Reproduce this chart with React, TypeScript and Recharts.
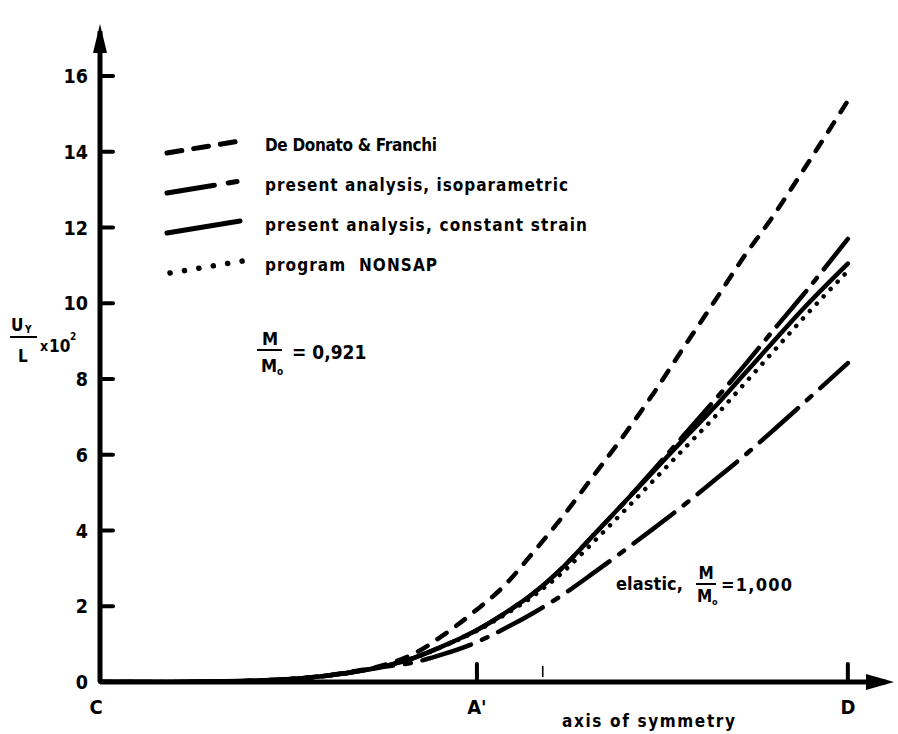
import React from 'react';
import { LineChart, Line, XAxis, YAxis, ReferenceDot, Legend, Customized } from 'recharts';

const FONT = "'DejaVu Sans Condensed', 'Liberation Sans Narrow', sans-serif";
const INK = '#000';

// x position along C–D (C = 0, D = 100)
const xPositions = [0, 10, 20, 27, 33, 38, 42, 46, 50, 54, 58, 62, 66, 70, 74, 78, 82, 86, 90, 94, 100];
// U_Y / L x 10^2
const deDonatoFranchi = [0, 0, 0.03, 0.1, 0.25, 0.45, 0.75, 1.25, 1.85, 2.53, 3.44, 4.4, 5.45, 6.5, 7.62, 8.82, 10.0, 11.2, 12.3, 13.5, 15.35];
const isoparametric = [0, 0, 0.03, 0.1, 0.24, 0.42, 0.64, 0.96, 1.33, 1.8, 2.35, 3.05, 3.88, 4.72, 5.6, 6.5, 7.4, 8.32, 9.28, 10.22, 11.7];
const constantStrain = [0, 0, 0.03, 0.1, 0.24, 0.42, 0.64, 0.96, 1.33, 1.8, 2.35, 3.05, 3.88, 4.72, 5.56, 6.4, 7.22, 8.1, 8.98, 9.85, 11.05];
const nonsap = [0, 0, 0.03, 0.1, 0.24, 0.42, 0.63, 0.95, 1.31, 1.76, 2.28, 2.92, 3.7, 4.5, 5.32, 6.14, 6.96, 7.84, 8.72, 9.6, 10.85];
const elastic = [0, 0, 0.03, 0.1, 0.23, 0.4, 0.52, 0.74, 1.02, 1.4, 1.83, 2.32, 2.88, 3.46, 4.05, 4.66, 5.3, 5.95, 6.64, 7.35, 8.42];

const yTicks = [0, 2, 4, 6, 8, 10, 12, 14, 16];
const xTickValues = [0, 50.4, 59.2, 100];
const xTickLabels = ['C', "A'", '', 'D'];
const seriesNames = [
  'De Donato & Franchi',
  'present analysis, isoparametric',
  'present analysis, constant strain',
  'program  NONSAP',
];

const X_MAX = 105.1;
const Y_MAX = 17.19;

const data = xPositions.map((x, i) => ({
  x,
  deDonato: deDonatoFranchi[i],
  iso: isoparametric[i],
  cst: constantStrain[i],
  nonsap: nonsap[i],
  elastic: elastic[i],
}));

const txt = { fill: INK, fontFamily: FONT, fontWeight: 700 } as const;

const YTick = (props: any) => {
  const { x, y, payload } = props;
  return (
    <g>
      <line x1={x} x2={x + 13} y1={y} y2={y} stroke={INK} strokeWidth={4} strokeLinecap="round" />
      <text x={x - 12} y={y + 7} textAnchor="end" fontSize={19.5} {...txt}>
        {payload.value}
      </text>
    </g>
  );
};

const XTick = (props: any) => {
  const { x, y, payload } = props;
  const idx = xTickValues.indexOf(payload.value);
  const label = idx >= 0 ? xTickLabels[idx] : '';
  const v = payload.value;
  return (
    <g>
      {(v === 50.4 || v === 100) && (
        <line x1={x} x2={x} y1={y - 18} y2={y} stroke={INK} strokeWidth={4} strokeLinecap="round" />
      )}
      {v === 59.2 && <line x1={x} x2={x} y1={y - 16} y2={y - 5} stroke={INK} strokeWidth={1.6} />}
      {label && (
        <text x={v === 0 ? x - 4 : x} y={y + 32} textAnchor="middle" fontSize={20} {...txt}>
          {label}
        </text>
      )}
    </g>
  );
};

const YArrow = (props: any) => {
  const { cx, cy } = props;
  return <polygon points={`${cx},${cy - 7} ${cx - 7},${cy + 22} ${cx + 7},${cy + 22}`} fill={INK} />;
};
const XArrow = (props: any) => {
  const { cx, cy } = props;
  return <polygon points={`${cx + 8},${cy} ${cx - 20},${cy - 8} ${cx - 20},${cy + 8}`} fill={INK} />;
};

const legendDash: Record<string, string | undefined> = {
  'De Donato & Franchi': '15 12',
  'present analysis, isoparametric': '48 14 9 30',
  'present analysis, constant strain': undefined,
  'program  NONSAP': '0.1 14.5',
};
const legendTextLen: Record<string, number> = {
  'De Donato & Franchi': 172,
  'present analysis, isoparametric': 303,
  'present analysis, constant strain': 322,
  'program  NONSAP': 172,
};

const renderLegend = (props: any) => {
  const items = [...(props.payload || [])]
    .filter((p: any) => seriesNames.includes(p.value))
    .sort((a: any, b: any) => seriesNames.indexOf(a.value) - seriesNames.indexOf(b.value));
  return (
    <svg width={470} height={170} style={{ display: 'block', overflow: 'visible' }}>
      {items.map((entry: any, i: number) => {
        const c = 25 + i * 40;
        const name = entry.value as string;
        const dotted = name === 'program  NONSAP';
        return (
          <g key={name}>
            <line
              x1={dotted ? 22 : 19}
              y1={c + 8}
              x2={dotted ? 95 : 92}
              y2={c - 4}
              stroke={INK}
              strokeWidth={dotted ? 5.5 : 5}
              strokeLinecap="round"
              strokeDasharray={legendDash[name]}
            />
            <text
              x={117}
              y={c + 6}
              fontSize={17}
              textLength={legendTextLen[name]}
              lengthAdjust="spacing"
              style={{ whiteSpace: 'pre' }}
              {...txt}
            >
              {name}
            </text>
          </g>
        );
      })}
    </svg>
  );
};

const Annotations = () => (
  <g>
    {/* y axis label */}
    <text x={11} y={331} fontSize={17} {...txt}>U</text>
    <text x={25} y={333} fontSize={10} {...txt}>Y</text>
    <line x1={10} x2={37} y1={337} y2={337} stroke={INK} strokeWidth={2} />
    <text x={18} y={362} fontSize={17} {...txt}>L</text>
    <text x={40} y={351} fontSize={14} {...txt}>x</text>
    <text x={49} y={352} fontSize={17} {...txt}>10</text>
    <text x={70} y={340} fontSize={10} {...txt}>2</text>

    {/* M/Mo = 0,921 */}
    <text x={270} y={345} fontSize={18} textAnchor="middle" {...txt}>M</text>
    <line x1={257} x2={282} y1={350} y2={350} stroke={INK} strokeWidth={2} />
    <text x={261} y={372} fontSize={18} {...txt}>M</text>
    <text x={277} y={375} fontSize={10} {...txt}>o</text>
    <text x={292} y={359} fontSize={19} style={{ whiteSpace: 'pre' }} {...txt}>
      = 0,921
    </text>

    {/* elastic label */}
    <text x={616} y={590} fontSize={18} textLength={67} lengthAdjust="spacing" {...txt}>elastic,</text>
    <text x={706} y={579} fontSize={17} textAnchor="middle" {...txt}>M</text>
    <line x1={696} x2={716} y1={584} y2={584} stroke={INK} strokeWidth={2} />
    <text x={697} y={602} fontSize={17} {...txt}>M</text>
    <text x={712} y={605} fontSize={9} {...txt}>o</text>
    <text x={721} y={591} fontSize={18} textLength={71} lengthAdjust="spacing" {...txt}>=1,000</text>

    {/* axis title */}
    <text x={562} y={727} fontSize={17} textLength={173} lengthAdjust="spacing" {...txt}>axis of symmetry</text>
  </g>
);

export default function App() {
  return (
    <div style={{ position: 'absolute', left: 0, top: 0, width: 898, height: 734, background: '#fff' }}>
      <LineChart width={898} height={734} data={data} margin={{ top: 31, right: 12, bottom: 22, left: 40 }}>
        <XAxis
          dataKey="x"
          type="number"
          domain={[0, X_MAX]}
          ticks={xTickValues}
          interval={0}
          tick={XTick}
          tickLine={false}
          tickSize={0}
          tickMargin={0}
          height={30}
          allowDataOverflow
          axisLine={{ stroke: INK, strokeWidth: 5 }}
        />
        <YAxis
          type="number"
          domain={[0, Y_MAX]}
          ticks={yTicks}
          interval={0}
          tick={YTick}
          tickLine={false}
          tickSize={0}
          tickMargin={0}
          width={60}
          allowDataOverflow
          axisLine={{ stroke: INK, strokeWidth: 5 }}
        />
        <Legend
          content={renderLegend}
          layout="horizontal"
          verticalAlign="middle"
          align="center"
          wrapperStyle={{ left: 148, top: 120, width: 470, height: 170 }}
        />
        <Line
          dataKey="deDonato"
          name={seriesNames[0]}
          type="monotone"
          stroke={INK}
          strokeWidth={4.5}
          strokeDasharray="11 12"
          strokeLinecap="round"
          dot={false}
          activeDot={false}
          isAnimationActive={false}
        />
        <Line
          dataKey="iso"
          name={seriesNames[1]}
          type="monotone"
          stroke={INK}
          strokeWidth={4.5}
          strokeDasharray="46 11 6 11"
          strokeLinecap="round"
          dot={false}
          activeDot={false}
          isAnimationActive={false}
        />
        <Line
          dataKey="cst"
          name={seriesNames[2]}
          type="monotone"
          stroke={INK}
          strokeWidth={4.5}
          strokeLinecap="round"
          dot={false}
          activeDot={false}
          isAnimationActive={false}
        />
        <Line
          dataKey="nonsap"
          name={seriesNames[3]}
          type="monotone"
          stroke={INK}
          strokeWidth={4.5}
          strokeDasharray="0.1 10"
          strokeLinecap="round"
          dot={false}
          activeDot={false}
          isAnimationActive={false}
        />
        <Line
          dataKey="elastic"
          name="elastic"
          legendType="none"
          type="monotone"
          stroke={INK}
          strokeWidth={4.5}
          strokeDasharray="51 12 6 12"
          strokeLinecap="round"
          dot={false}
          activeDot={false}
          isAnimationActive={false}
        />
        <ReferenceDot x={0} y={Y_MAX} r={0} shape={YArrow} ifOverflow="visible" />
        <ReferenceDot x={X_MAX} y={0} r={0} shape={XArrow} ifOverflow="visible" />
        <Customized component={Annotations} />
      </LineChart>
    </div>
  );
}
